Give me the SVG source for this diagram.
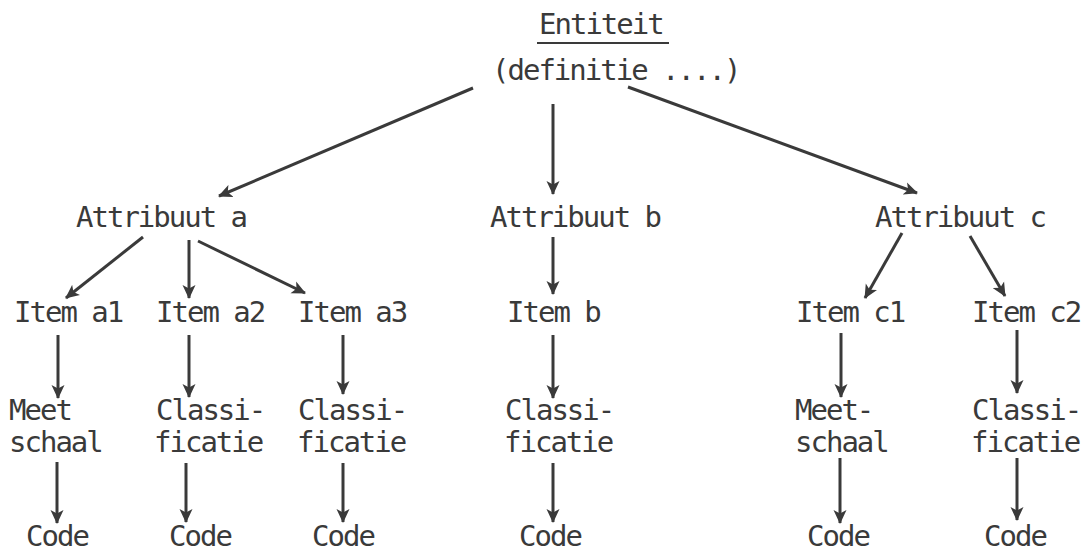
<svg xmlns="http://www.w3.org/2000/svg" width="1083" height="551" viewBox="0 0 1083 551">
  <style>
    text { font-family: "DejaVu Sans Mono", "Liberation Mono", monospace; font-size: 29px; letter-spacing: -2px; fill: #3a3a3a; }
    .edge { stroke: #3a3a3a; stroke-width: 3; fill: none; marker-end: url(#head); }
  </style>
  <defs>
    <marker id="head" viewBox="0 0 14 14" refX="13" refY="7" markerWidth="14" markerHeight="14" markerUnits="userSpaceOnUse" orient="auto">
      <path d="M0,0.5 L14,7 L0,13.5 L3.5,7 Z" fill="#3a3a3a"/>
    </marker>
  </defs>
  <rect width="1083" height="551" fill="#ffffff"/>

  <g id="entiteit">
    <text x="539" y="34">Entiteit</text>
    <line x1="537" y1="43" x2="669" y2="43" stroke="#3a3a3a" stroke-width="2"/>
    <text x="492" y="80">(definitie ....)</text>
  </g>

  <g id="attribuut-a"><text x="76" y="227">Attribuut a</text></g>
  <g id="attribuut-b"><text x="490" y="227">Attribuut b</text></g>
  <g id="attribuut-c"><text x="875" y="227">Attribuut c</text></g>

  <g id="item-a1"><text x="14" y="322">Item a1</text></g>
  <g id="item-a2"><text x="156" y="322">Item a2</text></g>
  <g id="item-a3"><text x="298" y="322">Item a3</text></g>
  <g id="item-b"><text x="507" y="322">Item b</text></g>
  <g id="item-c1"><text x="796" y="322">Item c1</text></g>
  <g id="item-c2"><text x="972" y="322">Item c2</text></g>

  <g id="schaal-a1"><text x="9" y="420">Meet</text><text x="9" y="452">schaal</text></g>
  <g id="class-a2"><text x="156" y="420">Classi-</text><text x="154" y="452">ficatie</text></g>
  <g id="class-a3"><text x="298" y="420">Classi-</text><text x="297" y="452">ficatie</text></g>
  <g id="class-b"><text x="505" y="420">Classi-</text><text x="504" y="452">ficatie</text></g>
  <g id="schaal-c1"><text x="795" y="420">Meet-</text><text x="795" y="452">schaal</text></g>
  <g id="class-c2"><text x="972" y="420">Classi-</text><text x="971" y="452">ficatie</text></g>

  <g id="code-a1"><text x="26" y="546">Code</text></g>
  <g id="code-a2"><text x="169" y="546">Code</text></g>
  <g id="code-a3"><text x="312" y="546">Code</text></g>
  <g id="code-b"><text x="519" y="546">Code</text></g>
  <g id="code-c1"><text x="807" y="546">Code</text></g>
  <g id="code-c2"><text x="984" y="546">Code</text></g>

  <g id="connectors">
    <line class="edge" x1="473" y1="88" x2="219" y2="196"/>
    <line class="edge" x1="553" y1="104" x2="553" y2="194"/>
    <line class="edge" x1="628" y1="87" x2="917" y2="193"/>

    <line class="edge" x1="143" y1="237" x2="66" y2="298"/>
    <line class="edge" x1="189" y1="240" x2="189" y2="298"/>
    <line class="edge" x1="198" y1="241" x2="305" y2="293"/>
    <line class="edge" x1="553" y1="237" x2="553" y2="294"/>
    <line class="edge" x1="902" y1="233" x2="865" y2="298"/>
    <line class="edge" x1="970" y1="236" x2="1005" y2="296"/>

    <line class="edge" x1="58" y1="335" x2="58" y2="398"/>
    <line class="edge" x1="189" y1="335" x2="189" y2="397"/>
    <line class="edge" x1="343" y1="335" x2="343" y2="394"/>
    <line class="edge" x1="553" y1="335" x2="553" y2="398"/>
    <line class="edge" x1="841" y1="333" x2="841" y2="397"/>
    <line class="edge" x1="1017" y1="330" x2="1017" y2="393"/>

    <line class="edge" x1="57" y1="462" x2="57" y2="523"/>
    <line class="edge" x1="186" y1="463" x2="186" y2="522"/>
    <line class="edge" x1="343" y1="463" x2="343" y2="522"/>
    <line class="edge" x1="553" y1="463" x2="553" y2="522"/>
    <line class="edge" x1="840" y1="458" x2="840" y2="523"/>
    <line class="edge" x1="1017" y1="458" x2="1017" y2="520"/>
  </g>
</svg>
